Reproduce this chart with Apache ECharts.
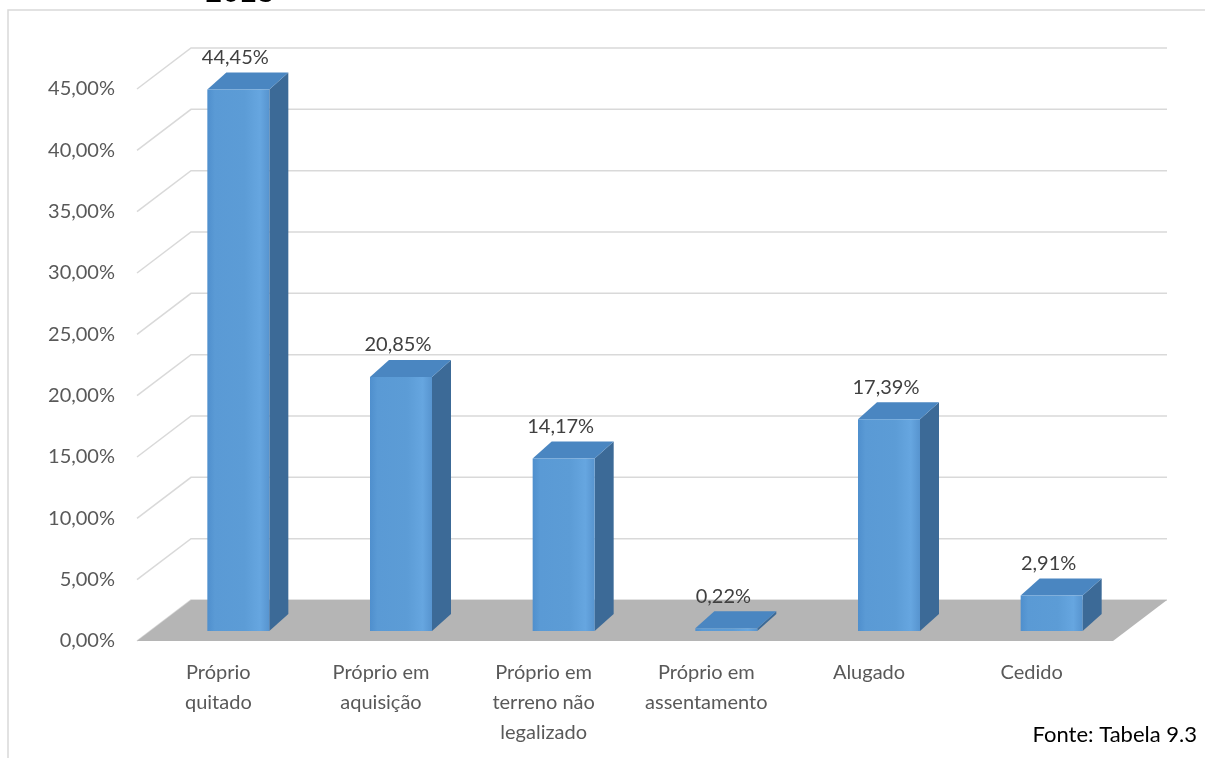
<!DOCTYPE html>
<html>
<head>
<meta charset="utf-8">
<script src="https://cdn.jsdelivr.net/npm/echarts@6/dist/echarts.min.js"></script>
<style>
  html, body { margin: 0; padding: 0; background: #fff; }
  #chart { width: 1205px; height: 758px; }
</style>
</head>
<body>
<div id="chart"></div>
<script>
const categories = ['Próprio\nquitado', 'Próprio em\naquisição', 'Próprio em\nterreno não\nlegalizado', 'Próprio em\nassentamento', 'Alugado', 'Cedido']
const values = [44.45, 20.85, 14.17, 0.22, 17.39, 2.91]
const yTicks = [0, 5, 10, 15, 20, 25, 30, 35, 40, 45]

const FONT = 'Lato, "Open Sans", sans-serif'
// depth of the floor / back wall, and of each bar
const WALL_DX = 54, WALL_DY = -41
const BAR_DX = 19, BAR_DY = -17, BAR_W = 62

const pct = v => v.toFixed(2).replace('.', ',') + '%'

const chart = echarts.init(document.getElementById('chart'))

function bounds(api) {
  const band = api.size([1, 0])[0]
  const left = api.coord([0, 0])[0] - band / 2
  const right = api.coord([categories.length - 1, 0])[0] + band / 2
  return { left, right }
}

function renderWall(params, api) {
  const { left, right } = bounds(api)
  const y = api.coord([0, api.value(1)])[1]
  return {
    type: 'polyline',
    shape: { points: [[left, y], [left + WALL_DX, y + WALL_DY], [right + WALL_DX, y + WALL_DY]] },
    style: { stroke: '#d9d9d9', lineWidth: 1.5, fill: null }
  }
}

function renderFloor(params, api) {
  const { left, right } = bounds(api)
  const y = api.coord([0, 0])[1]
  return {
    type: 'polygon',
    shape: { points: [[left, y], [right, y], [right + WALL_DX, y + WALL_DY], [left + WALL_DX, y + WALL_DY]] },
    style: { fill: '#b5b5b5' }
  }
}

function renderBar(params, api) {
  const i = api.value(0)
  const v = api.value(1)
  const base = api.coord([i, 0])
  const tip = api.coord([i, v])
  const cx = base[0] + 20
  const bottom = base[1] - 10
  const h = Math.max((base[1] - tip[1]) * 0.993, 1.5)
  const top = bottom - h
  const x0 = cx - BAR_W / 2, x1 = cx + BAR_W / 2
  return {
    type: 'group',
    children: [
      {
        type: 'polygon',
        shape: { points: [[x1, bottom], [x1, top], [x1 + BAR_DX, top + BAR_DY], [x1 + BAR_DX, bottom + BAR_DY]] },
        style: { fill: '#3c6a97' }
      },
      {
        type: 'polygon',
        shape: { points: [[x0, top], [x1, top], [x1 + BAR_DX, top + BAR_DY], [x0 + BAR_DX, top + BAR_DY]] },
        style: { fill: '#4a86c1' }
      },
      {
        type: 'rect',
        shape: { x: x0, y: top, width: BAR_W, height: h },
        style: {
          fill: new echarts.graphic.LinearGradient(0, 0, 1, 0, [
            { offset: 0, color: '#4f8fcd' },
            { offset: 0.12, color: '#5a9ad5' },
            { offset: 0.6, color: '#5c9cd6' },
            { offset: 0.85, color: '#66a6e0' },
            { offset: 1, color: '#5794cf' }
          ])
        }
      },
      {
        type: 'text',
        style: {
          x: cx - 3, y: top + BAR_DY - 5,
          text: pct(v), align: 'center', verticalAlign: 'bottom',
          fill: '#404040', font: '20px ' + FONT
        }
      }
    ]
  }
}

chart.setOption({
  animation: false,
  backgroundColor: '#fff',
  graphic: [
    {
      type: 'rect', silent: true, z: -10,
      shape: { x: 8, y: 10, width: 1400, height: 900 },
      style: { fill: null, stroke: '#d9d9d9', lineWidth: 1.5 }
    },
    {
      type: 'text', left: 205, top: -22,
      style: { text: '2013', fill: '#000', font: '31px "Liberation Sans", Arial, sans-serif' }
    },
    {
      type: 'text', right: 8, top: 724,
      style: { text: 'Fonte: Tabela 9.3', fill: '#000', font: '22px ' + FONT }
    }
  ],
  grid: { left: 137, right: 92, top: 89, bottom: 117 },
  xAxis: {
    type: 'category',
    data: categories,
    axisLine: { show: false },
    axisTick: { show: false },
    axisLabel: { interval: 0, margin: 17, color: '#595959', fontSize: 20, lineHeight: 30, fontFamily: FONT }
  },
  yAxis: {
    type: 'value',
    min: 0, max: 45, interval: 5,
    axisLine: { show: false },
    axisTick: { show: false },
    splitLine: { show: false },
    axisLabel: { margin: 22, color: '#595959', fontSize: 20, fontFamily: FONT, formatter: pct }
  },
  series: [
    { type: 'custom', z: 1, clip: false, renderItem: renderWall, data: yTicks.map(v => [0, v]) },
    { type: 'custom', z: 2, clip: false, renderItem: renderFloor, data: [[0, 0]] },
    { type: 'custom', z: 3, clip: false, renderItem: renderBar, data: values.map((v, i) => [i, v]) }
  ]
})
</script>
</body>
</html>
